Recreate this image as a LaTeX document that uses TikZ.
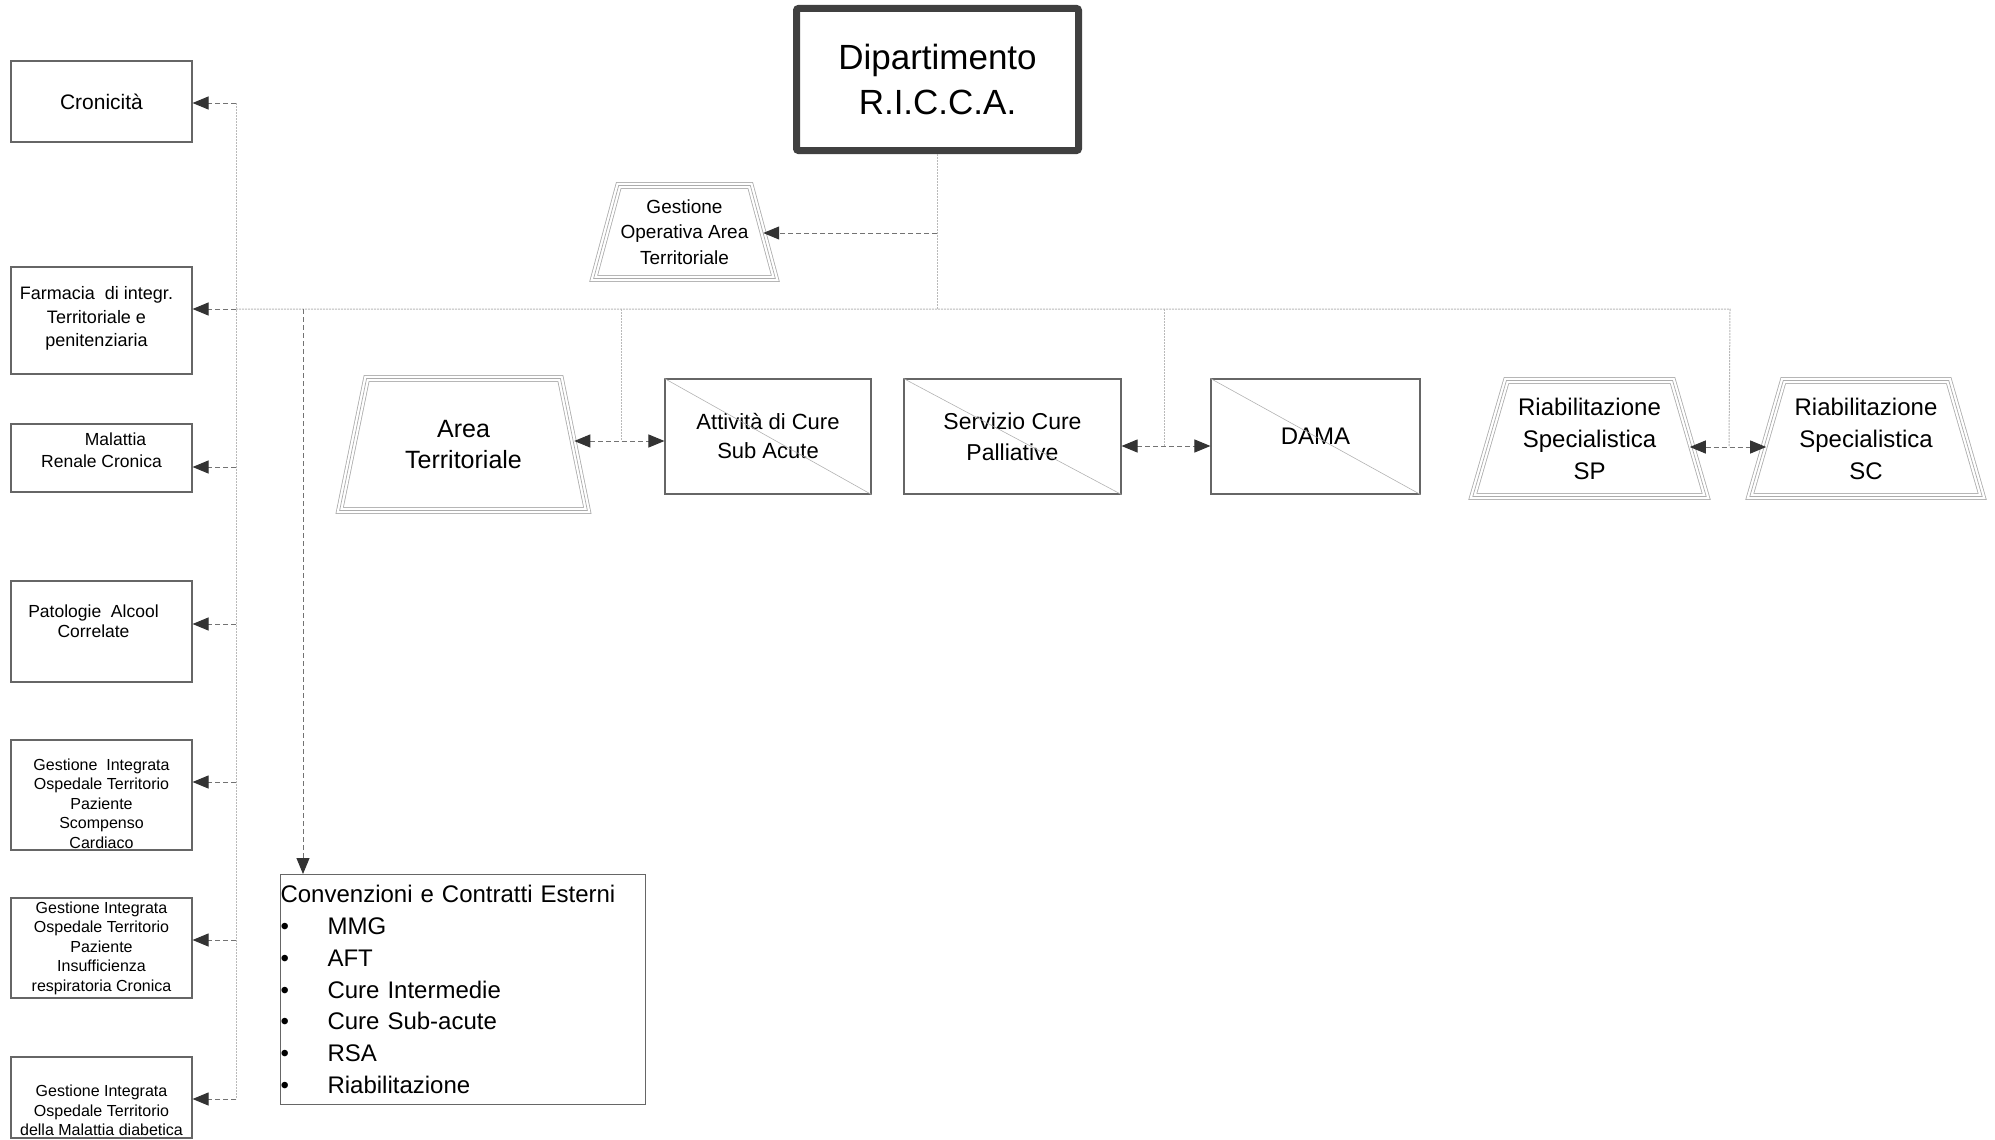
\documentclass[tikz,border=0pt]{standalone}
\usepackage{fontspec}
\setmainfont{Liberation Sans}
\usetikzlibrary{calc,positioning,shapes,arrows.meta}
\newcommand{\convitem}{\makebox[47pt][l]{\textbullet}}

\begin{document}
\begin{tikzpicture}[x=1pt,y=-1pt,
		>={Triangle[length=16pt,width=13pt,color=black!80]},
		box/.style={draw=black!60, line width=1.1pt, inner sep=0pt, align=center},
		lbox/.style={box, minimum width=181pt},
		cbox/.style={box, minimum height=115pt},
		posbox/.style={trapezium, trapezium stretches=true, trapezium left angle=#1, trapezium right angle=#1, inner sep=0pt, align=center,
			preaction={draw=gray!65, line width=6.8pt}, preaction={draw=white, line width=5.2pt}, draw=gray!65, line width=0.7pt},
		tree/.style={gray!55, line width=1pt, dash pattern=on 2pt off 1pt},
		arr/.style={->, black!55, line width=1pt, dash pattern=on 5pt off 3pt},
		txt/.style={align=center, inner sep=0pt}]
		\useasboundingbox (0,0) rectangle (1995,1140);

		\node[draw=black!75, line width=7pt, rounded corners=2pt, minimum width=282pt, minimum height=142pt, align=center, font=\fontsize{35}{45}\selectfont] (dip) at (937.5,79.5) {Dipartimento\\R.I.C.C.A.};
		\node[posbox=69.5, minimum width=182pt, minimum height=93pt, font=\fontsize{19}{25.5}\selectfont] (go) at (684.5,232) {Gestione\\Operativa Area\\Territoriale};

		\node[posbox=71.5, minimum width=248pt, minimum height=132pt, font=\fontsize{25}{31}\selectfont] (at) at (463.5,444.5) {Area\\Territoriale};
		\node[cbox, minimum width=206pt, font=\fontsize{22}{29}\selectfont] (act) at (768,436.5) {Attività di Cure\\Sub Acute};
		\node[cbox, minimum width=217pt, font=\fontsize{23}{31}\selectfont] (scp) at (1012.5,436.5) {Servizio Cure\\Palliative};
		\node[cbox, minimum width=209pt, font=\fontsize{24}{30}\selectfont] (dama) at (1315.5,436.5) {DAMA};
		\node[posbox=70.5, minimum width=234pt, minimum height=116pt, font=\fontsize{24}{32}\selectfont] (sp) at (1589.5,438.5) {Riabilitazione\\Specialistica\\SP};
		\node[posbox=70.5, minimum width=233pt, minimum height=116pt, font=\fontsize{24}{32}\selectfont] (sc) at (1866,438.5) {Riabilitazione\\Specialistica\\SC};

		\foreach \n in {act,scp,dama}
			\draw[gray!60, line width=0.6pt] (\n.north west) -- (\n.south east);

		\node[lbox, minimum height=81pt, font=\fontsize{21}{25}\selectfont] (cro) at (101.5,101.5) {Cronicità};
		\node[lbox, minimum height=107pt] (far) at (101.5,320.5) {};
		\node[txt, font=\fontsize{18}{23.5}\selectfont] (far-t) at ($(far)+(-5,-2)$) {Farmacia\ \ di integr.\\Territoriale e\\penitenziaria};
		\node[lbox, minimum height=68pt] (mrc) at (101.5,458) {};
		\node[txt, font=\fontsize{17.5}{21.5}\selectfont] (mrc-t) at ($(mrc)+(0,-8)$) {\hspace*{28pt}Malattia\\Renale Cronica};
		\node[lbox, minimum height=101pt] (pac) at (101.5,631.5) {};
		\node[txt, font=\fontsize{17.5}{20}\selectfont] (pac-t) at ($(pac)+(-8,-10)$) {Patologie\ \ Alcool\\Correlate};
		\node[lbox, minimum height=110pt] (gsc) at (101.5,795) {};
		\node[txt, font=\fontsize{16}{19.5}\selectfont] (gsc-t) at ($(gsc)+(0,8.5)$) {Gestione\ \ Integrata\\Ospedale Territorio\\Paziente\\Scompenso\\Cardiaco};
		\node[lbox, minimum height=100pt, font=\fontsize{16}{19.5}\selectfont] (gir) at (101.5,948) {Gestione Integrata\\Ospedale Territorio\\Paziente\\Insufficienza\\respiratoria Cronica};
		\node[lbox, minimum height=81pt] (gmd) at (101.5,1097.5) {};
		\node[txt, font=\fontsize{16}{19.5}\selectfont] (gmd-t) at ($(gmd)+(0,13)$) {Gestione Integrata\\Ospedale Territorio\\della Malattia diabetica};

		\node[box, anchor=north west, minimum width=365pt, minimum height=230pt, text width=365pt, align=left, font=\fontsize{24}{31.8}\selectfont] (conv) at (280,874) {Convenzioni e Contratti Esterni\\
			\convitem MMG\\
			\convitem AFT\\
			\convitem Cure Intermedie\\
			\convitem Cure Sub-acute\\
			\convitem RSA\\
			\convitem Riabilitazione};

		\coordinate (s-cro) at (236,103);
		\coordinate (s-far) at (236,309);
		\coordinate (s-mrc) at (236,467);
		\coordinate (s-pac) at (236,624);
		\coordinate (s-gsc) at (236,782);
		\coordinate (s-gir) at (236,940);
		\coordinate (s-gmd) at (236,1099);
		\coordinate (b-end) at (1730,309);
		\coordinate (j-go) at (937,233);
		\coordinate (j-at) at (621,441);
		\coordinate (j-scp) at (1164,446);
		\coordinate (j-sp) at (1729,447);
		\coordinate (j-conv) at (303,309);

		\draw[tree] (s-cro) -- (s-gmd);
		\draw[tree] (s-far) -- (b-end) -- (j-sp);
		\draw[tree] (dip) -- (dip |- s-far);
		\draw[tree] (j-at |- s-far) -- (j-at);
		\draw[tree] (j-scp |- s-far) -- (j-scp);

		\foreach \n in {cro,far,mrc,pac,gsc,gir,gmd}
			\draw[arr] (s-\n) -- (s-\n -| \n.east);
		\draw[arr] (j-go) -- (j-go -| go.east);
		\draw[arr] (j-conv) -- (j-conv |- conv.north);
		\draw[arr,<->] (j-at -| at.east) -- (j-at -| act.west);
		\draw[arr,<->] (j-scp -| scp.east) -- (j-scp -| dama.west);
		\draw[arr,<->] (j-sp -| sp.east) -- (j-sp -| sc.west);
\end{tikzpicture}
\end{document}
